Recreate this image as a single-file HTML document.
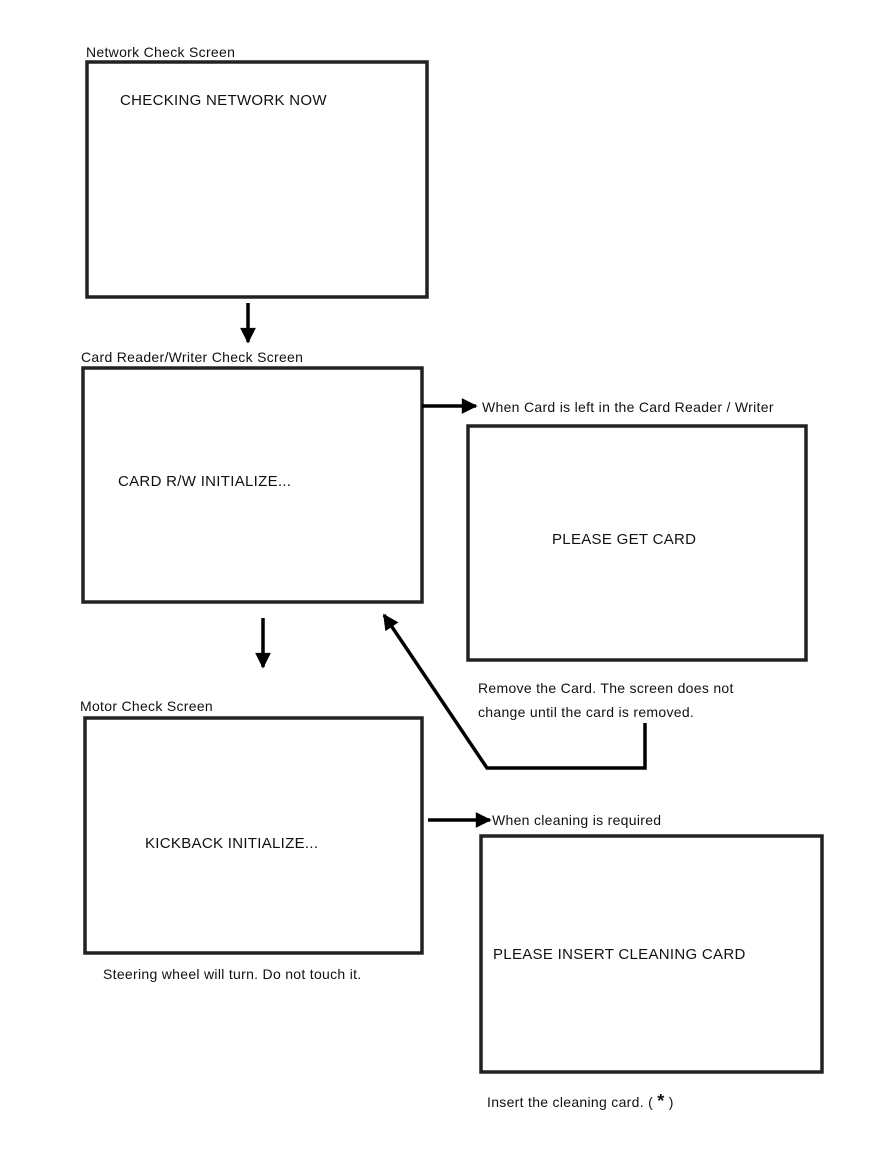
<!DOCTYPE html>
<html><head><style>
body{margin:0;background:#fff;}
svg text{font-family:"Liberation Sans",sans-serif;fill:#111;letter-spacing:0.3px;}
</style></head><body>
<svg width="886" height="1146" xmlns="http://www.w3.org/2000/svg">
<defs><marker id="ah" viewBox="0 0 10 10" refX="9" refY="5" markerWidth="5" markerHeight="4.5" orient="auto"><path d="M0,0L10,5L0,10z" fill="#000"/></marker></defs>
<g fill="none" stroke="#222" stroke-width="3.5">
<rect x="87" y="62" width="340" height="235"/>
<rect x="83" y="368" width="339" height="234"/>
<rect x="468" y="426" width="338" height="234"/>
<rect x="85" y="718" width="337" height="235"/>
<rect x="481" y="836" width="341" height="236"/>
</g>
<g stroke="#000" stroke-width="3.5" fill="none">
<line x1="248" y1="303" x2="248" y2="342" marker-end="url(#ah)"/>
<line x1="263" y1="618" x2="263" y2="667" marker-end="url(#ah)"/>
<line x1="422" y1="406" x2="476" y2="406" marker-end="url(#ah)"/>
<line x1="428" y1="820" x2="490" y2="820" marker-end="url(#ah)"/>
<polyline points="645,723 645,768 487,768 384,615" marker-end="url(#ah)"/>
</g>
<g font-size="14">
<text x="86" y="57">Network Check Screen</text>
<text x="120" y="105" font-size="15">CHECKING NETWORK NOW</text>
<text x="81" y="362">Card Reader/Writer Check Screen</text>
<text x="118" y="486" font-size="15">CARD R/W INITIALIZE...</text>
<text x="482" y="412">When Card is left in the Card Reader / Writer</text>
<text x="552" y="544" font-size="15">PLEASE GET CARD</text>
<text x="478" y="693">Remove the Card. The screen does not</text>
<text x="478" y="717">change until the card is removed.</text>
<text x="80" y="711">Motor Check Screen</text>
<text x="145" y="848" font-size="15">KICKBACK INITIALIZE...</text>
<text x="103" y="979">Steering wheel will turn. Do not touch it.</text>
<text x="492" y="825">When cleaning is required</text>
<text x="493" y="959" font-size="15">PLEASE INSERT CLEANING CARD</text>
<text x="487" y="1107">Insert the cleaning card.  ( <tspan font-weight="bold" font-size="18">*</tspan> )</text>
</g>
</svg>
</body></html>
